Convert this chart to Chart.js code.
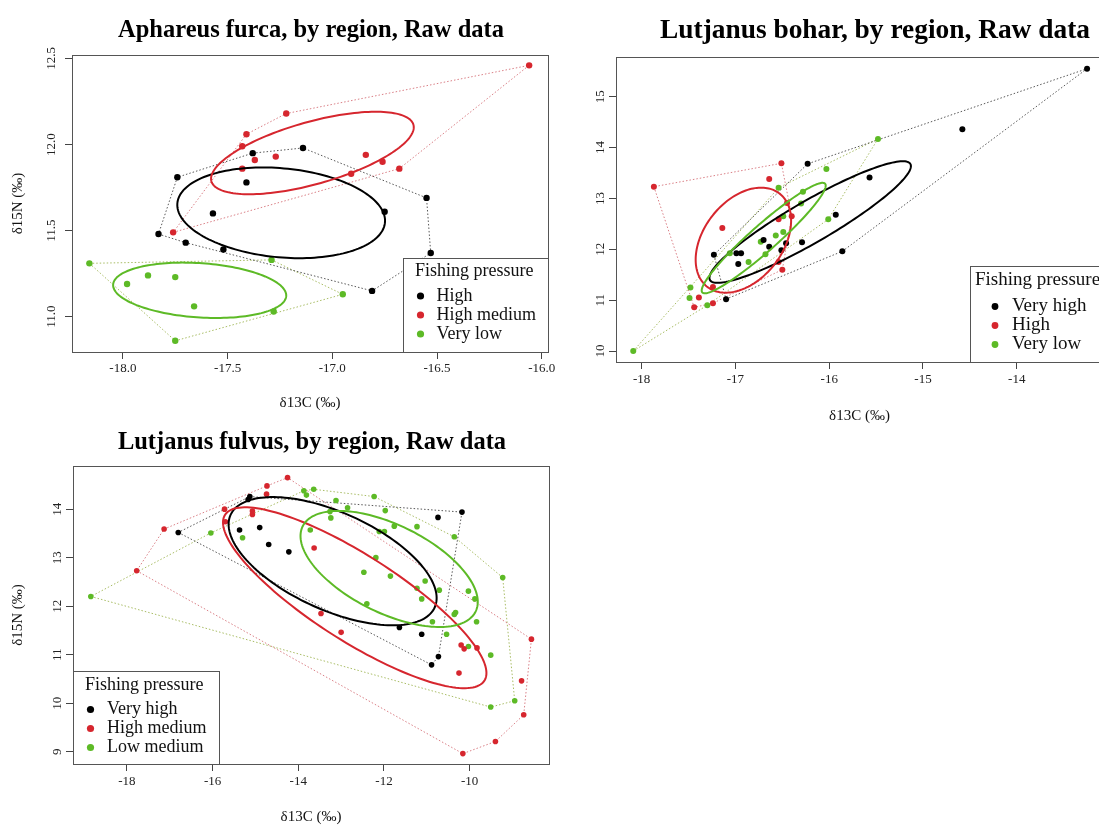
<!DOCTYPE html>
<html>
<head>
<meta charset="utf-8">
<script src="https://cdn.jsdelivr.net/npm/chart.js@4.4.1/dist/chart.umd.min.js"></script>
<style>
  html, body { margin: 0; padding: 0; background: #fff; overflow: hidden; width: 1099px; height: 827px; }
  .panel { position: absolute; }
</style>
</head>
<body>
<div class="panel" style="left:0;top:0"><canvas id="furca" width="620" height="415"></canvas></div>
<div class="panel" style="left:560px;top:0"><canvas id="bohar" width="599" height="430"></canvas></div>
<div class="panel" style="left:0;top:410px"><canvas id="fulvus" width="620" height="417"></canvas></div>
<script>
// Aphareus furca
const furcaGroups = ['High', 'High medium', 'Very low'];
const furcaHighC = [-17.38, -17.14, -17.74, -17.41, -17.57, -17.83, -17.70, -17.52, -16.55, -16.75, -16.53, -16.81];
const furcaHighN = [11.95, 11.98, 11.81, 11.78, 11.60, 11.48, 11.43, 11.39, 11.69, 11.61, 11.37, 11.15];
const furcaHighMedC = [-17.22, -17.41, -17.43, -17.37, -17.27, -17.43, -17.76, -16.84, -16.76, -16.68, -16.91, -16.06];
const furcaHighMedN = [12.18, 12.06, 11.99, 11.91, 11.93, 11.86, 11.49, 11.94, 11.90, 11.86, 11.83, 12.46];
const furcaVeryLowC = [-18.16, -17.88, -17.98, -17.75, -17.66, -17.75, -17.29, -17.28, -16.95];
const furcaVeryLowN = [11.31, 11.24, 11.19, 11.23, 11.06, 10.86, 11.33, 11.03, 11.13];
const furcaXTicks = [-18, -17.5, -17, -16.5, -16];
const furcaYTicks = [11, 11.5, 12, 12.5];

// Lutjanus bohar
const boharGroups = ['Very high', 'High', 'Very low'];
const boharVeryHighC = [-16.23, -13.25, -14.58, -15.57, -17.23, -16.99, -16.94, -16.97, -16.70, -16.64, -16.51, -16.46, -16.29, -15.93, -15.86, -17.10];
const boharVeryHighN = [13.68, 15.55, 14.36, 13.41, 11.89, 11.92, 11.92, 11.71, 12.18, 12.05, 11.98, 12.12, 12.14, 12.68, 11.96, 11.02];
const boharHighC = [-17.87, -16.51, -16.64, -16.45, -17.14, -16.54, -16.50, -16.54, -16.40, -17.39, -17.44, -17.24, -17.24];
const boharHighN = [13.23, 13.69, 13.38, 12.91, 12.42, 11.75, 11.60, 12.59, 12.65, 11.05, 10.86, 10.94, 11.26];
const boharVeryLowC = [-16.03, -16.54, -16.28, -16.30, -15.48, -18.09, -17.06, -16.86, -16.73, -16.57, -16.49, -16.68, -16.49, -16.01, -17.48, -17.49, -17.30];
const boharVeryLowN = [13.58, 13.21, 13.13, 12.90, 14.17, 10.00, 11.92, 11.75, 12.15, 12.27, 12.34, 11.90, 12.65, 12.59, 11.25, 11.04, 10.90];
const boharXTicks = [-18, -17, -16, -15, -14];
const boharYTicks = [10, 11, 12, 13, 14, 15];

// Lutjanus fulvus
const fulvusGroups = ['Very high', 'High medium', 'Low medium'];
const fulvusVeryHighC = [-15.13, -15.17, -15.37, -14.90, -14.69, -14.22, -16.80, -10.18, -10.74, -11.64, -11.12, -10.73, -10.89];
const fulvusVeryHighN = [14.26, 14.20, 13.57, 13.62, 13.27, 13.12, 13.52, 13.94, 13.83, 11.56, 11.42, 10.96, 10.79];
const fulvusHighMedC = [-14.25, -14.73, -14.74, -15.72, -15.07, -15.07, -15.70, -17.13, -17.77, -13.63, -13.47, -13.00, -10.20, -10.13, -9.83, -10.25, -8.56, -8.79, -8.74, -9.40, -10.16];
const fulvusHighMedN = [14.65, 14.48, 14.31, 14.00, 13.96, 13.89, 13.74, 13.59, 12.73, 13.20, 11.85, 11.46, 11.20, 11.12, 11.14, 10.62, 11.32, 10.46, 9.76, 9.21, 8.96];
const fulvusLowMedC = [-16.04, -15.30, -18.84, -13.87, -13.81, -13.64, -12.23, -13.12, -12.85, -13.26, -13.24, -11.97, -13.72, -12.11, -11.99, -11.76, -11.23, -10.36, -12.19, -12.47, -11.85, -11.04, -11.23, -11.12, -10.71, -10.03, -9.88, -9.23, -12.40, -10.36, -10.33, -10.87, -9.84, -10.54, -10.03, -9.51, -8.95, -9.51];
const fulvusLowMedN = [13.51, 13.41, 12.20, 14.38, 14.29, 14.41, 14.26, 14.18, 14.03, 13.95, 13.82, 13.97, 13.57, 13.54, 13.54, 13.65, 13.64, 13.43, 13.00, 12.70, 12.62, 12.52, 12.37, 12.15, 12.33, 12.31, 12.15, 12.59, 12.05, 11.83, 11.87, 11.68, 11.68, 11.42, 11.17, 10.99, 10.05, 9.92];
const fulvusXTicks = [-18, -16, -14, -12, -10];
const fulvusYTicks = [9, 10, 11, 12, 13, 14];

const SERIF = '"Liberation Serif", "DejaVu Serif", serif';
const COLORS = ['#000000', '#D6262E', '#5DBA26'];
const HULL_COLORS = ['rgba(60,60,60,0.85)', 'rgba(205,85,95,0.75)', 'rgba(160,182,85,0.9)'];

function toPoints(xs, ys) {
  return xs.map((x, i) => ({ x: x, y: ys[i] }));
}

// convex hull (monotone chain), closed
function convexHull(pts) {
  const p = pts.slice().sort((a, b) => a.x - b.x || a.y - b.y);
  const cross = (o, a, b) => (a.x - o.x) * (b.y - o.y) - (a.y - o.y) * (b.x - o.x);
  const lower = [], upper = [];
  for (const q of p) {
    while (lower.length >= 2 && cross(lower[lower.length - 2], lower[lower.length - 1], q) <= 0) lower.pop();
    lower.push(q);
  }
  for (let i = p.length - 1; i >= 0; i--) {
    const q = p[i];
    while (upper.length >= 2 && cross(upper[upper.length - 2], upper[upper.length - 1], q) <= 0) upper.pop();
    upper.push(q);
  }
  upper.pop();
  lower.pop();
  const hull = lower.concat(upper);
  hull.push(hull[0]);
  return hull;
}

// small-sample corrected standard ellipse: centre, major half-axis, minor half-axis
function standardEllipse(xs, ys) {
  const n = xs.length;
  const mx = xs.reduce((a, b) => a + b, 0) / n;
  const my = ys.reduce((a, b) => a + b, 0) / n;
  let sxx = 0, syy = 0, sxy = 0;
  for (let i = 0; i < n; i++) {
    const dx = xs[i] - mx, dy = ys[i] - my;
    sxx += dx * dx; syy += dy * dy; sxy += dx * dy;
  }
  sxx /= n - 1; syy /= n - 1; sxy /= n - 1;
  const tr = sxx + syy, det = sxx * syy - sxy * sxy;
  const disc = Math.sqrt(Math.max(tr * tr / 4 - det, 0));
  const l1 = tr / 2 + disc, l2 = tr / 2 - disc;
  let ex = sxy, ey = l1 - sxx;
  if (Math.abs(ex) < 1e-12 && Math.abs(ey) < 1e-12) { ex = 1; ey = 0; }
  const len = Math.hypot(ex, ey);
  ex /= len; ey /= len;
  const k = Math.sqrt((n - 1) / (n - 2));
  const a = Math.sqrt(l1) * k, b = Math.sqrt(Math.max(l2, 0)) * k;
  return [mx, my, ex * a, ey * a, -ey * b, ex * b];
}

const ellipsePlugin = {
  id: 'sea',
  afterDatasetsDraw(chart, args, opts) {
    const { ctx, chartArea } = chart;
    const sx = chart.scales.x, sy = chart.scales.y;
    ctx.save();
    ctx.beginPath();
    ctx.rect(chartArea.left, chartArea.top, chartArea.width, chartArea.height);
    ctx.clip();
    ctx.lineWidth = 2;
    (opts.list || []).forEach((e, k) => {
      ctx.strokeStyle = COLORS[k];
      ctx.beginPath();
      for (let i = 0; i <= 160; i++) {
        const t = i / 160 * Math.PI * 2;
        const c = e[0] + e[2] * Math.cos(t) + e[4] * Math.sin(t);
        const n = e[1] + e[3] * Math.cos(t) + e[5] * Math.sin(t);
        const px = sx.getPixelForValue(c), py = sy.getPixelForValue(n);
        if (i === 0) ctx.moveTo(px, py); else ctx.lineTo(px, py);
      }
      ctx.closePath();
      ctx.stroke();
    });
    ctx.restore();
  }
};

const framePlugin = {
  id: 'frame',
  afterDraw(chart) {
    const { ctx, chartArea: a } = chart;
    ctx.save();
    ctx.strokeStyle = '#555';
    ctx.lineWidth = 1;
    ctx.strokeRect(Math.round(a.left) + 0.5, Math.round(a.top) + 0.5, Math.round(a.width), Math.round(a.height));
    ctx.restore();
  }
};

// bold title centred over the plotting region, like R's main title
const titlePlugin = {
  id: 'rtitle',
  afterDraw(chart, args, o) {
    if (!o.text) return;
    const { ctx, chartArea } = chart;
    ctx.save();
    ctx.font = 'bold ' + o.size + 'px ' + SERIF;
    ctx.textAlign = 'center';
    ctx.textBaseline = 'alphabetic';
    ctx.fillStyle = '#000';
    ctx.fillText(o.text, (chartArea.left + chartArea.right) / 2 + o.shift, o.baseline);
    ctx.restore();
  }
};

const legendPlugin = {
  id: 'rlegend',
  afterDraw(chart, args, o) {
    if (!o.labels) return;
    const { ctx, chartArea } = chart;
    const left = Math.round(o.side === 'left' ? chartArea.left : chartArea.right - o.width);
    const top = Math.round(chartArea.bottom - o.height);
    ctx.save();
    ctx.fillStyle = '#fff';
    ctx.fillRect(left, top, o.width, o.height);
    ctx.strokeStyle = '#555';
    ctx.lineWidth = 1;
    ctx.strokeRect(left + 0.5, top + 0.5, o.width, o.height);
    ctx.font = o.size + 'px ' + SERIF;
    ctx.textBaseline = 'middle';
    ctx.fillStyle = '#111';
    ctx.fillText(o.title, left + o.titleX, top + o.titleY);
    o.labels.forEach((lab, i) => {
      const cy = top + o.itemY + i * o.step;
      ctx.fillStyle = COLORS[i];
      ctx.beginPath();
      ctx.arc(left + o.dotX, cy, o.dot, 0, Math.PI * 2);
      ctx.fill();
      ctx.fillStyle = '#111';
      ctx.fillText(lab, left + o.textX, cy);
    });
    ctx.restore();
  }
};

function makePanel(id, cfg) {
  const datasets = [];
  const ellipses = [];
  cfg.groups.forEach((g, k) => {
    const pts = toPoints(cfg.xs[k], cfg.ys[k]);
    ellipses.push(standardEllipse(cfg.xs[k], cfg.ys[k]));
    datasets.push({
      data: convexHull(pts), showLine: true, borderColor: HULL_COLORS[k], borderWidth: 1,
      borderDash: [1.5, 2], pointRadius: 0, fill: false, order: 2
    });
    datasets.push({
      label: g, data: pts, backgroundColor: COLORS[k], borderWidth: 0,
      pointRadius: cfg.r, pointHoverRadius: cfg.r, order: 1
    });
  });

  const axisGrid = { display: true, drawOnChartArea: false, drawTicks: true, tickLength: 7, color: '#444', tickColor: '#444' };

  return new Chart(document.getElementById(id), {
    type: 'scatter',
    data: { datasets: datasets },
    plugins: [ellipsePlugin, framePlugin, legendPlugin, titlePlugin],
    options: {
      responsive: false,
      animation: false,
      events: [],
      layout: { padding: { left: 0, right: cfg.padRight, top: cfg.padTop, bottom: 0 } },
      plugins: {
        legend: { display: false },
        tooltip: { enabled: false },
        title: { display: false },
        rtitle: { text: cfg.title, size: cfg.titleSize, baseline: cfg.titleBase, shift: cfg.titleShift },
        sea: { list: ellipses },
        rlegend: cfg.legend
      },
      scales: {
        x: {
          type: 'linear', min: cfg.xMin, max: cfg.xMax,
          afterBuildTicks: s => { s.ticks = cfg.xTicks.map(v => ({ value: v })); },
          afterFit: s => { s.height = cfg.xAxisH; },
          grid: axisGrid,
          border: { display: true, color: '#444' },
          ticks: {
            font: { family: SERIF, size: 13 }, color: '#222', padding: cfg.xTickPad,
            maxRotation: 0, autoSkip: false, callback: v => v.toFixed(cfg.xDec)
          },
          title: {
            display: true, text: 'δ13C (‰)', color: '#111',
            font: { family: SERIF, size: 15 }, padding: { top: 0, bottom: cfg.xTitlePad }
          }
        },
        y: {
          type: 'linear', min: cfg.yMin, max: cfg.yMax,
          afterBuildTicks: s => { s.ticks = cfg.yTicks.map(v => ({ value: v })); },
          afterFit: s => { s.width = cfg.yAxisW; },
          grid: axisGrid,
          border: { display: true, color: '#444' },
          ticks: {
            font: { family: SERIF, size: 13 }, color: '#222', padding: cfg.yTickPad,
            minRotation: 90, maxRotation: 90, crossAlign: 'center', autoSkip: false,
            callback: v => v.toFixed(cfg.yDec)
          },
          title: {
            display: cfg.yTitle, text: 'δ15N (‰)', color: '#111',
            font: { family: SERIF, size: 15 }, padding: { top: 9, bottom: 0 }
          }
        }
      }
    }
  });
}

window.addEventListener('load', () => {
  makePanel('furca', {
    title: 'Aphareus furca, by region, Raw data',
    groups: furcaGroups,
    xs: [furcaHighC, furcaHighMedC, furcaVeryLowC],
    ys: [furcaHighN, furcaHighMedN, furcaVeryLowN],
    xTicks: furcaXTicks, yTicks: furcaYTicks, xDec: 1, yDec: 1,
    xMin: -18.243, xMax: -15.97, yMin: 10.795, yMax: 12.52,
    r: 3.2, padRight: 72, padTop: 55, yAxisW: 72, xAxisH: 63,
    titleSize: 24.5, titleBase: 36.5, titleShift: 1,
    xTickPad: 1.5, xTitlePad: 3, yTickPad: 2, yTitle: true,
    legend: {
      side: 'right', width: 145, height: 94, title: 'Fishing pressure', labels: furcaGroups,
      size: 18, titleX: 12, titleY: 13.5, itemY: 38, step: 19, dotX: 17.5, textX: 33.5, dot: 3.6
    }
  });

  makePanel('bohar', {
    title: 'Lutjanus bohar, by region, Raw data',
    groups: boharGroups,
    xs: [boharVeryHighC, boharHighC, boharVeryLowC],
    ys: [boharVeryHighN, boharHighN, boharVeryLowN],
    xTicks: boharXTicks, yTicks: boharYTicks, xDec: 0, yDec: 0,
    xMin: -18.274, xMax: -13.08, yMin: 9.784, yMax: 15.78,
    r: 3, padRight: 56, padTop: 57, yAxisW: 56, xAxisH: 68,
    titleSize: 27.4, titleBase: 37.5, titleShift: 15.5,
    xTickPad: 2.5, xTitlePad: 5, yTickPad: 2, yTitle: false,
    legend: {
      side: 'right', width: 133, height: 96, title: 'Fishing pressure', labels: boharGroups,
      size: 19, titleX: 5, titleY: 14.5, itemY: 40.5, step: 19, dotX: 25, textX: 42, dot: 3.4
    }
  });

  makePanel('fulvus', {
    title: 'Lutjanus fulvus, by region, Raw data',
    groups: fulvusGroups,
    xs: [fulvusVeryHighC, fulvusHighMedC, fulvusLowMedC],
    ys: [fulvusVeryHighN, fulvusHighMedN, fulvusLowMedN],
    xTicks: fulvusXTicks, yTicks: fulvusYTicks, xDec: 0, yDec: 0,
    xMin: -19.256, xMax: -8.15, yMin: 8.746, yMax: 14.89,
    r: 2.8, padRight: 71, padTop: 56, yAxisW: 73, xAxisH: 63,
    titleSize: 24.5, titleBase: 38.5, titleShift: 1,
    xTickPad: 2.5, xTitlePad: 1, yTickPad: 2, yTitle: true,
    legend: {
      side: 'left', width: 146, height: 93, title: 'Fishing pressure', labels: fulvusGroups,
      size: 18, titleX: 12, titleY: 14.5, itemY: 38.5, step: 19, dotX: 17.5, textX: 34, dot: 3.6
    }
  });
});
</script>
</body>
</html>
